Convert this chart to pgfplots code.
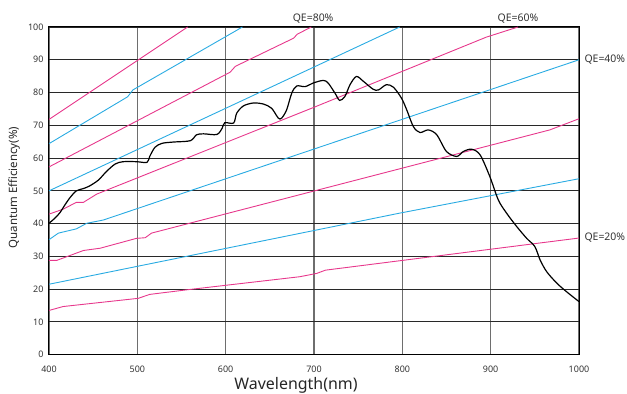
\documentclass[border=0pt]{standalone}
\usepackage{pgfplots}
\pgfplotsset{compat=1.18}
\usepackage{fontspec}
\setmainfont{Noto Sans}
\definecolor{qemag}{RGB}{231,56,140}
\definecolor{qecyan}{RGB}{41,171,226}
\definecolor{vgrid}{RGB}{110,110,110}
\definecolor{hgrid}{RGB}{40,40,40}
\begin{document}
\begin{tikzpicture}
\begin{axis}[
  scale only axis,
  width=530bp, height=327.7bp,
  xmin=400, xmax=1000, ymin=0, ymax=100,
  xtick={400,500,...,1000}, ytick={0,10,...,100},
  major tick length=0pt,
  xmajorgrids, ymajorgrids,
  x grid style={vgrid, line width=1.2bp},
  y grid style={hgrid, line width=0.9bp},
  axis line style={black, line width=1bp},
  /pgf/number format/assume math mode=true,
  /pgf/number format/1000 sep={},
  tick label style={font=\fontsize{9}{10}\selectfont, text=black!80},
  xticklabel style={yshift=-8bp},
  yticklabel style={xshift=-2bp},
  xlabel={Wavelength(nm)},
  ylabel={Quantum Efficiency(\%)},
  xlabel style={font=\fontsize{16}{17}\selectfont, text=black!85, at={(axis description cs:0.466,0)}, anchor=base, yshift=-34.5bp},
  ylabel style={font=\fontsize{11.5}{12}\selectfont, text=black!85, at={(axis description cs:-0.066,0.51)}, anchor=center},
  clip=false,
]
% magenta QE lines
\addplot[qemag, line width=0.9bp] coordinates {(400,71.8) (557,100)};
\addplot[qemag, line width=0.9bp] coordinates {(400,57.3) (605,86.2) (611,88) (677,96.6) (681,97.8) (697,100)};
\addplot[qemag, line width=0.9bp] coordinates {(400,42.9) (416,44.4) (431,46.5) (439,46.5) (454,49) (700,75.5) (895,96.9) (931,100)};
\addplot[qemag, line width=0.9bp] coordinates {(400,28.8) (409,28.8) (439,31.8) (458,32.5) (499,35.5) (509,35.7) (516,37.1) (967,68.6) (1000,72)};
\addplot[qemag, line width=0.9bp] coordinates {(400,13.5) (416,14.7) (501,17.2) (514,18.4) (556,19.8) (684,23.8) (703,24.8) (713,25.8) (1000,35.6)};
% cyan QE lines
\addplot[qecyan, line width=0.9bp] coordinates {(400,64.4) (489,78.7) (495,80.8) (619,100)};
\addplot[qecyan, line width=0.9bp] coordinates {(400,50) (797,100)};
\addplot[qecyan, line width=0.9bp] coordinates {(400,35.1) (410.6,37.1) (431,38.4) (442.7,40.1) (461.5,41.1) (1000,90)};
\addplot[qecyan, line width=0.9bp] coordinates {(400,21.5) (797,43.2) (1000,53.7)};
% sensor QE curve
\addplot[black, line width=1.2bp, smooth, tension=0.5] coordinates {
(400,40.1) (406,41.5) (412,43.2) (418,45.7) (424,48) (431,50) (439,50.7) (446,51.5) (456,53.3) (465,55.9)
(475,58.2) (484,58.9) (499,58.9) (511,58.7) (514,60.5) (520,63.3) (528,64.5) (541,64.9) (560,65.3)
(567,67.1) (575,67.4) (590,67.2) (596,69.1) (599,70.8) (609,70.7) (612.5,73.7) (620,75.9) (631,76.8)
(642.6,76.5) (652,75.2) (659.6,72.2) (663.4,72.2) (669,74.7) (674.8,79.8) (680.4,82) (690,81.8)
(699,82.9) (710.5,83.7) (716,82.9) (723.8,79.8) (729,77.6) (735,78.8) (740.8,82.4) (748,84.9)
(756,83.4) (767,81) (773,80.8) (782,82.4) (790,81.6) (799,78.3) (805,74.7) (812.5,69.6) (820,67.8)
(829.4,68.6) (839,67.1) (850,62) (861.6,60.5) (869,62) (878.5,62.7) (888,61) (899,54.4) (908.7,47.2)
(918,43.2) (929.5,39.1) (940.8,35.5) (950,33) (956,28.9) (963.5,25.3) (975,21.8) (986,19.2) (1000,16.2)};
% labels
\node[font=\fontsize{10.5}{11}\selectfont, text=black!80, anchor=base] at (axis cs:699,100) [yshift=5bp] {QE=80\%};
\node[font=\fontsize{10.5}{11}\selectfont, text=black!80, anchor=base] at (axis cs:931,100) [yshift=5bp] {QE=60\%};
\node[font=\fontsize{10.5}{11}\selectfont, text=black!80, anchor=west] at (axis cs:1000,90) [xshift=2bp] {QE=40\%};
\node[font=\fontsize{10.5}{11}\selectfont, text=black!80, anchor=west] at (axis cs:1000,35.6) [xshift=2bp] {QE=20\%};
\coordinate (bl) at (rel axis cs:0,0);
\coordinate (tr) at (rel axis cs:1,1);
\end{axis}
\pgfresetboundingbox
\path[use as bounding box] ([xshift=-49bp,yshift=-39.3bp]bl) rectangle ([xshift=48bp,yshift=27bp]tr);
\end{tikzpicture}
\end{document}
